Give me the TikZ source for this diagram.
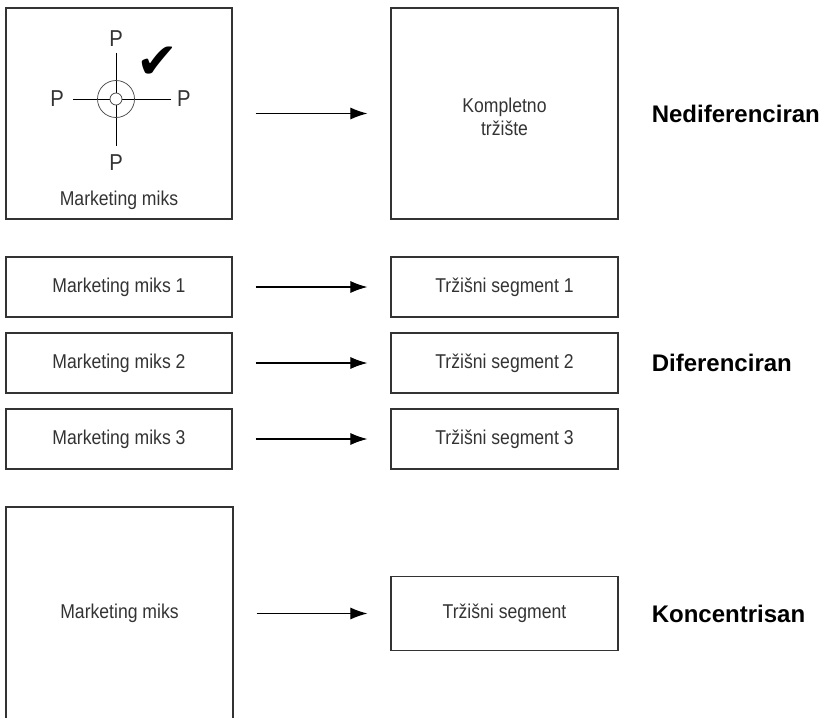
\documentclass[tikz,border=0pt]{standalone}
\usepackage{fontspec}
\setmainfont{Liberation Sans}
\newfontfamily\condfont{Liberation Sans}[FakeStretch=0.88]
\newfontfamily\symbolfont{DejaVu Sans}
\usetikzlibrary{positioning,arrows.meta}
\tikzset{
mixbox/.style={
  draw=black!80,
  line width=1.2pt,
  inner sep=0pt,
  align=center,
  text=black!80,
  font=\condfont\fontsize{20}{24}\selectfont
  }
}
\tikzset{
  wide/.style 2 args={mixbox, minimum width=#1, minimum height=#2},
  flow/.style={->, line width=1.1pt, shorten <=23pt, shorten >=23pt},
  kind/.style={inner sep=0pt, font=\bfseries\fontsize{24}{28}\selectfont},
  inner/.style={inner sep=0pt, align=center, text=black!80, font=\condfont\fontsize{20}{23}\selectfont},
  pee/.style={inner sep=0pt, text=black!80, font=\condfont\fontsize{23}{26}\selectfont}
}
\begin{document}
\begin{tikzpicture}[x=1pt,y=-1pt,>={Latex[length=17pt,width=12pt]}]
\useasboundingbox (0,0) rectangle (826,717);

\node[wide={226pt}{211pt}] (mix0) at (119,113.5) {};
\node[wide={227pt}{211pt}] (market0) at (504.5,113.5) {};
\node[inner] (marketlabel0) at ([yshift=-3pt]market0.center) {Kompletno\\tržište};

\coordinate (hub) at (116,99);
\coordinate (tn) at (116,53);
\coordinate (ts) at (116,146);
\coordinate (tw) at (73,99);
\coordinate (te) at (171,99);
\draw[line width=0.9pt] (tn) -- (ts);
\draw[line width=0.9pt] (tw) -- (te);
\draw[black!75, line width=0.7pt] (hub) circle (18.5);
\filldraw[black!75, fill=white, line width=0.7pt] (hub) circle (6);

\node[pee, above=6pt of tn] (pn) {P};
\node[pee, below=8pt of ts] (ps) {P};
\node[pee, left=9pt of tw] (pw) {P};
\node[pee, right=6pt of te] (pe) {P};

\node[inner sep=0pt, font=\symbolfont\fontsize{50}{50}\selectfont] (tick) at (157,63) {✔};

\node[inner, above=10pt of mix0.south] (mixlabel0) {Marketing miks};

\node[wide={226pt}{60pt}] (mix1) at (119,287) {Marketing miks 1};
\node[wide={227pt}{60pt}] (seg1) at (504.5,287) {Tržišni segment 1};

\node[wide={226pt}{60pt}] (mix2) at (119,363) {Marketing miks 2};
\node[wide={227pt}{60pt}] (seg2) at (504.5,363) {Tržišni segment 2};

\node[wide={226pt}{60pt}] (mix3) at (119,439) {Marketing miks 3};
\node[wide={227pt}{60pt}] (seg3) at (504.5,439) {Tržišni segment 3};

\node[wide={227pt}{213pt}] (mix4) at (119.5,613.5) {Marketing miks};
\node[wide={227pt}{74pt}] (seg4) at (504.5,613.5) {Tržišni segment};

\draw[flow] (mix0) -- (market0);
\draw[flow] (mix1) -- (seg1);
\draw[flow] (mix2) -- (seg2);
\draw[flow] (mix3) -- (seg3);
\draw[flow] (mix4) -- (seg4);

\node[kind, right=33pt of market0] (undiff) {Nediferenciran};
\node[kind, right=33pt of seg2] (diff) {Diferenciran};
\node[kind, right=33pt of seg4] (conc) {Koncentrisan};

\end{tikzpicture}
\end{document}
